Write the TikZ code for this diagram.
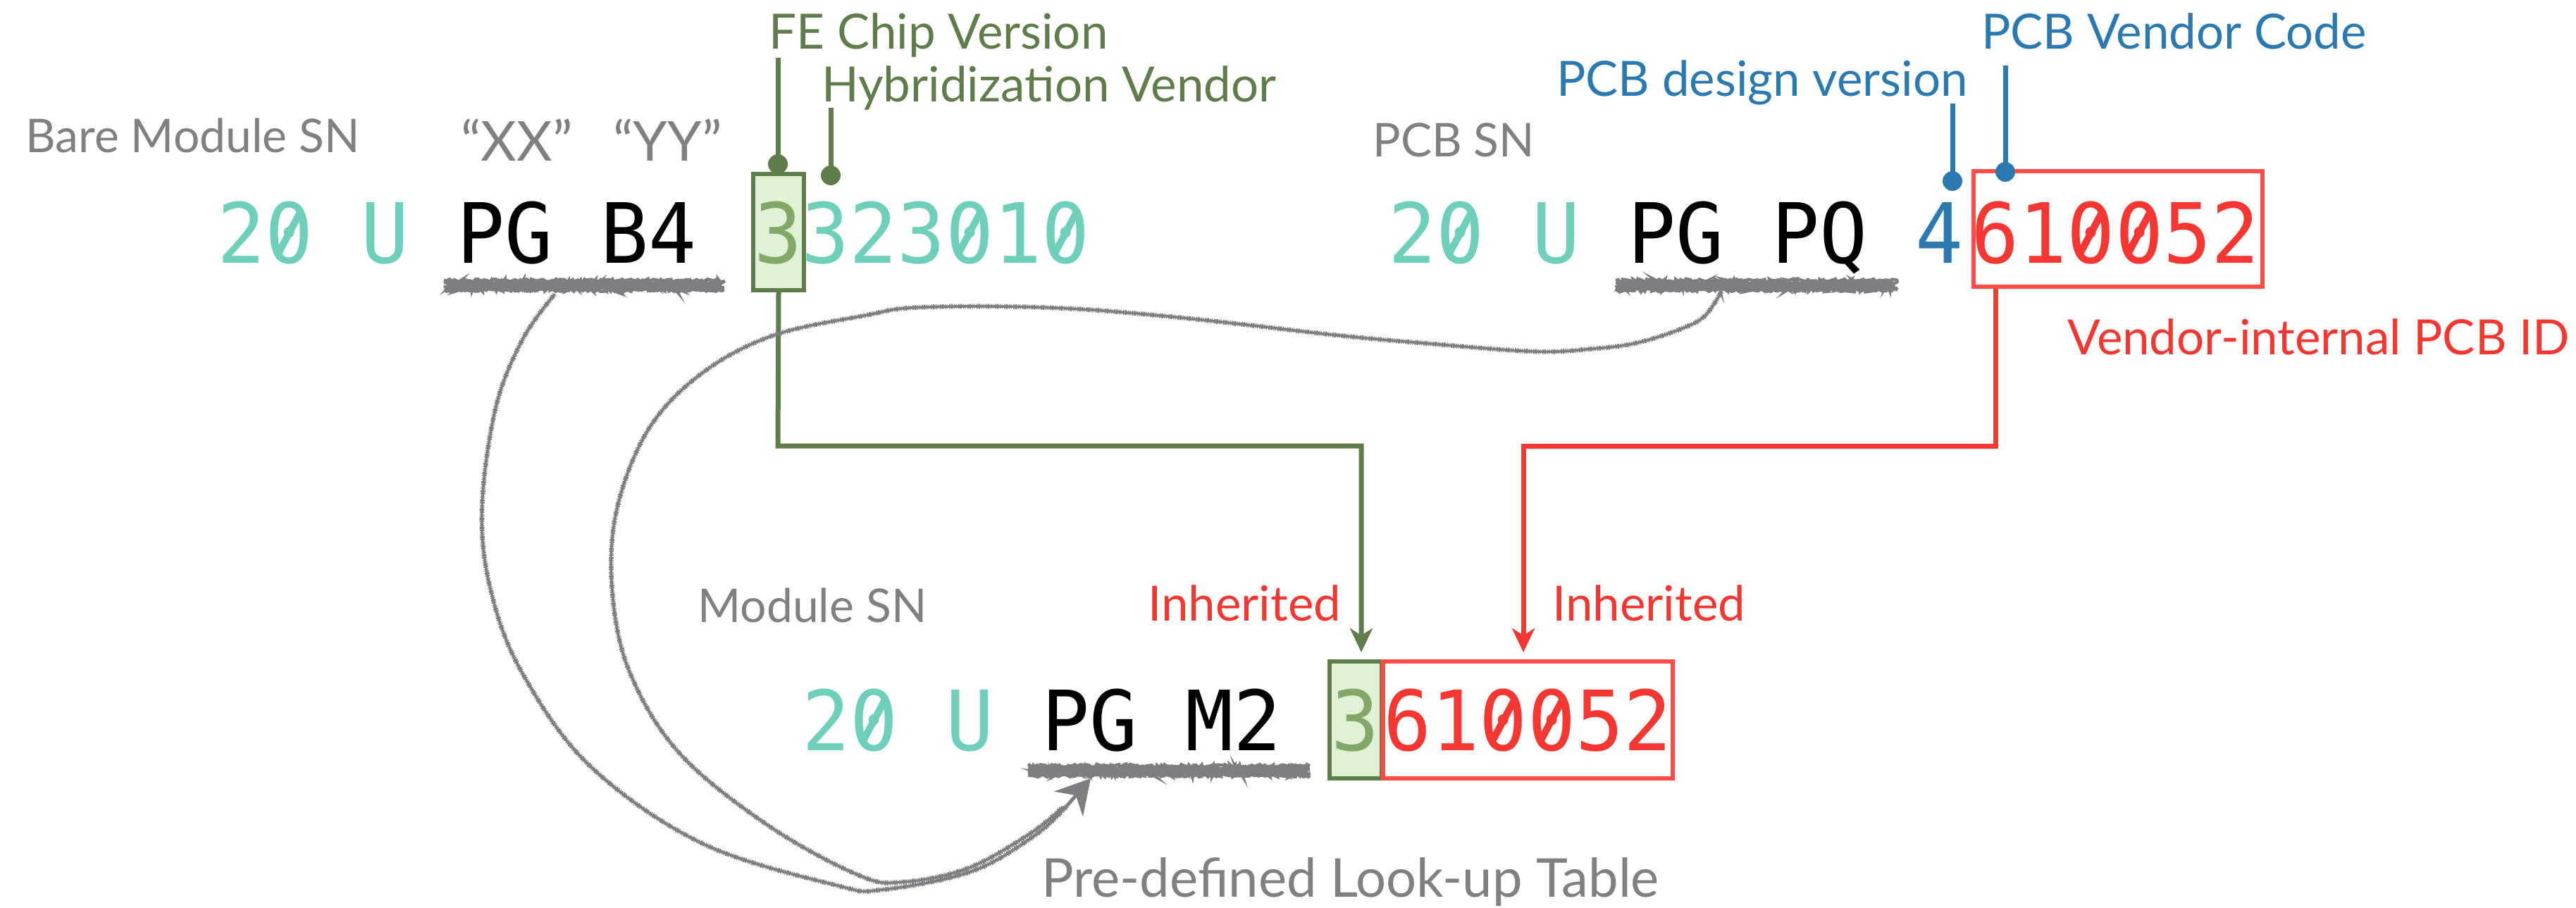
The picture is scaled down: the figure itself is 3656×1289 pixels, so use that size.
\documentclass[tikz,border=0pt]{standalone}
\usepackage{fontspec}
\usepackage{graphicx}
\setmainfont{Lato}
\newfontfamily\snfont[FakeStretch=0.96]{DejaVu Sans Mono}
\usetikzlibrary{arrows.meta,decorations.pathmorphing}

% zero with a diagonal stroke, as in the serial-number font
\newcommand\slz{\ooalign{0\cr\hidewidth\raisebox{0.32em}{\rotatebox[origin=c]{62}{\rule{0.54em}{0.085em}}}\hidewidth\cr}}

\definecolor{snteal}{HTML}{6ECFBA}
\definecolor{fegreen}{HTML}{5F7D4A}
\definecolor{fetext}{HTML}{82A868}
\definecolor{fefill}{HTML}{E0F1D6}
\definecolor{pcbred}{HTML}{F53631}
\definecolor{pcbbox}{HTML}{FF4C47}
\definecolor{pcbblue}{HTML}{2A79B0}
\definecolor{labelgray}{HTML}{808080}
\definecolor{chalk}{HTML}{7E7E80}

\tikzset{
  sn/.style={font=\snfont\fontsize{59}{59}\selectfont, inner sep=0pt, anchor=base west},
  lbl/.style={font=\fontsize{34.5}{34.5}\selectfont, inner sep=0pt, anchor=base west},
  bitbox/.style={draw=fegreen, fill=fefill, line width=3pt, inner sep=0pt,
                 minimum width=36pt, minimum height=82.5pt},
  idbox/.style={draw=pcbbox, line width=3pt, inner sep=0pt,
                minimum width=205pt, minimum height=82pt},
  wire/.style={line width=3.5pt, line join=miter},
  pin/.style={line width=3.5pt},
  chalkline/.style={draw=chalk, line width=1.8pt, line join=round, line cap=round,
    preaction={draw=chalk, line width=3.4pt,
      dash pattern=on 0.6pt off 0.8pt on 1.4pt off 0.5pt on 0.9pt off 1.1pt on 0.5pt off 0.7pt}},
  chalkcore/.style={draw=chalk, line width=5.5pt, line cap=butt},
  chalkbar/.style={draw=chalk, line width=2.2pt, line cap=butt,
                   decorate, decoration={random steps, segment length=1pt, amplitude=1pt}},
}

\begin{document}
\begin{tikzpicture}[x=0.5pt, y=-0.5pt]
\useasboundingbox (0,0) rectangle (3656,1289);

% ---------- Bare module serial number ----------
\node[lbl, text=labelgray, font=\fontsize{33}{33}\selectfont] (bmlabel) at (36,217) {Bare Module SN};
\node[lbl, text=labelgray, font=\fontsize{39}{39}\selectfont] (xx) at (654,229) {“XX”};
\node[lbl, text=labelgray, font=\fontsize{39}{39}\selectfont] (yy) at (870,229) {“YY”};

\node[sn, text=snteal] (bm20) at (308,373) {2\slz};
\node[sn, text=snteal] (bmU) at (512,373) {U};
\node[sn] (bmPG) at (648,373) {PG};
\node[sn] (bmB4) at (852,373) {B4};
\node[bitbox] (fe1) at (1105,329.5) {};
\node[sn, text=fetext, anchor=base] (bmfe) at (1105,373) {3};
\node[sn, text=snteal] (bmrest) at (1137,373) {323\slz1\slz};

\node[lbl, text=fegreen] (fechip) at (1091,70) {FE Chip Version};
\node[lbl, text=fegreen] (hyb) at (1166,145) {Hybridization Vendor};

\coordinate (fetop) at (1104,82);
\coordinate (fedot) at (1104,233);
\coordinate (hybtop) at (1179,153);
\coordinate (hybdot) at (1179,249);
\draw[pin, fegreen] (fetop) -- (fedot);
\draw[pin, fegreen] (hybtop) -- (hybdot);
\fill[fegreen] (fedot) circle (7pt);
\fill[fegreen] (hybdot) circle (7pt);

% ---------- PCB serial number ----------
\node[lbl, text=labelgray, font=\fontsize{33}{33}\selectfont] (pcblabel) at (1948,223) {PCB SN};
\node[sn, text=snteal] (pc20) at (1970,373) {2\slz};
\node[sn, text=snteal] (pcU) at (2174,373) {U};
\node[sn] (pcPG) at (2310,373) {PG};
\node[sn] (pcPQ) at (2514,373) {PQ};
\node[sn, text=pcbblue] (pc4) at (2718,373) {4};
\node[idbox] (pcb2) at (3006,325) {};
\node[sn, text=pcbred] (pcid) at (2797,373) {61\slz\slz52};

\node[lbl, text=pcbblue] (pcbdes) at (2209,137) {PCB design version};
\node[lbl, text=pcbblue] (pcbven) at (2812,70) {PCB Vendor Code};
\node[lbl, text=pcbred] (vint) at (2934,503) {Vendor-internal PCB ID};

\coordinate (destop) at (2771,147);
\coordinate (desdot) at (2771,257);
\coordinate (ventop) at (2846,93);
\coordinate (vendot) at (2846,244);
\draw[pin, pcbblue] (destop) -- (desdot);
\draw[pin, pcbblue] (ventop) -- (vendot);
\fill[pcbblue] (desdot) circle (7pt);
\fill[pcbblue] (vendot) circle (7pt);

% ---------- Module serial number ----------
\node[lbl, text=labelgray, font=\fontsize{33}{33}\selectfont] (modlabel) at (990,883) {Module SN};
\node[lbl, text=pcbred] (inh1) at (1629,881) {Inherited};
\node[lbl, text=pcbred] (inh2) at (2203,881) {Inherited};

\node[sn, text=snteal] (m20) at (1138,1065) {2\slz};
\node[sn, text=snteal] (mU) at (1342,1065) {U};
\node[sn] (mPG) at (1478,1065) {PG};
\node[sn] (mM2) at (1682,1065) {M2};
\node[bitbox, minimum width=37pt, minimum height=83pt] (fe3) at (1924,1022) {};
\node[sn, text=fetext, anchor=base] (mfe) at (1924,1065) {3};
\node[idbox, minimum width=205.5pt, minimum height=83pt] (pcb3) at (2168.5,1022) {};
\node[sn, text=pcbred] (mid) at (1963,1065) {61\slz\slz52};

\node[lbl, text=labelgray, font=\fontsize{38}{38}\selectfont] (lut) at (1478,1273) {Pre-defined Look-up Table};

% ---------- inheritance wires ----------
\coordinate (greenbend) at (1104,633);
\coordinate (redbend) at (2162,633);
\draw[wire, fegreen, -{Stealth[length=17pt, width=16pt, inset=5pt]}, shorten >=5pt]
  (fe1.south) -- (greenbend) -| ([xshift=4pt]fe3.north);
\draw[wire, pcbred, -{Stealth[length=17pt, width=16pt, inset=5pt]}, shorten >=5pt]
  ([xshift=17pt]pcb2.south west) |- (redbend) -- (redbend |- pcb3.north);

% ---------- look-up table sketch ----------
\coordinate (u1w) at (630,405);  \coordinate (u1e) at (1028,405);
\coordinate (u2w) at (2293,405); \coordinate (u2e) at (2693,405);
\coordinate (u3w) at (1459,1094); \coordinate (u3e) at (1859,1094);
\foreach \u in {1,2,3}{
  \draw[chalkcore] ([xshift=2pt]u\u w) -- ([xshift=-2pt]u\u e);
  \foreach \dy in {-3.4,-1.6,1.6,3.4}{
    \draw[chalkbar] ([yshift=\dy pt]u\u w) -- ([yshift=\dy pt]u\u e);
  }
}

\coordinate (atail) at (787,418);
\coordinate (btail) at (2443,414);
\coordinate (merge) at (1379,1237);
\coordinate (tipbase) at (1515,1143);
\coordinate (tip) at (1548,1105);

\path[chalkline] plot[smooth, tension=0.6] coordinates {
  (atail) (741,483) (703,581) (684,725) (697,840) (741,955) (837,1087)
  (996,1197) (1188,1257) (1252,1263) (merge) (1470,1185) (tipbase)};
\path[chalkline] plot[smooth, tension=0.6] coordinates {
  (btail) (2419,449) (2383,468) (2322,487) (2262,495) (2177,499) (2019,487)
  (1898,476) (1777,462) (1656,449) (1535,439) (1413,435) (1292,437) (1232,447)
  (1098,476) (996,530) (920,610) (875,725) (869,840) (894,955) (965,1070)
  (1092,1173) (1220,1243) (1283,1252) (1375,1232) (1464,1182) (1508,1146)};
\draw[draw=chalk, fill=chalk, line width=2.5pt,
      -{Stealth[length=24pt, width=27pt, inset=8pt]}] (tipbase) -- (tip);
\end{tikzpicture}
\end{document}
